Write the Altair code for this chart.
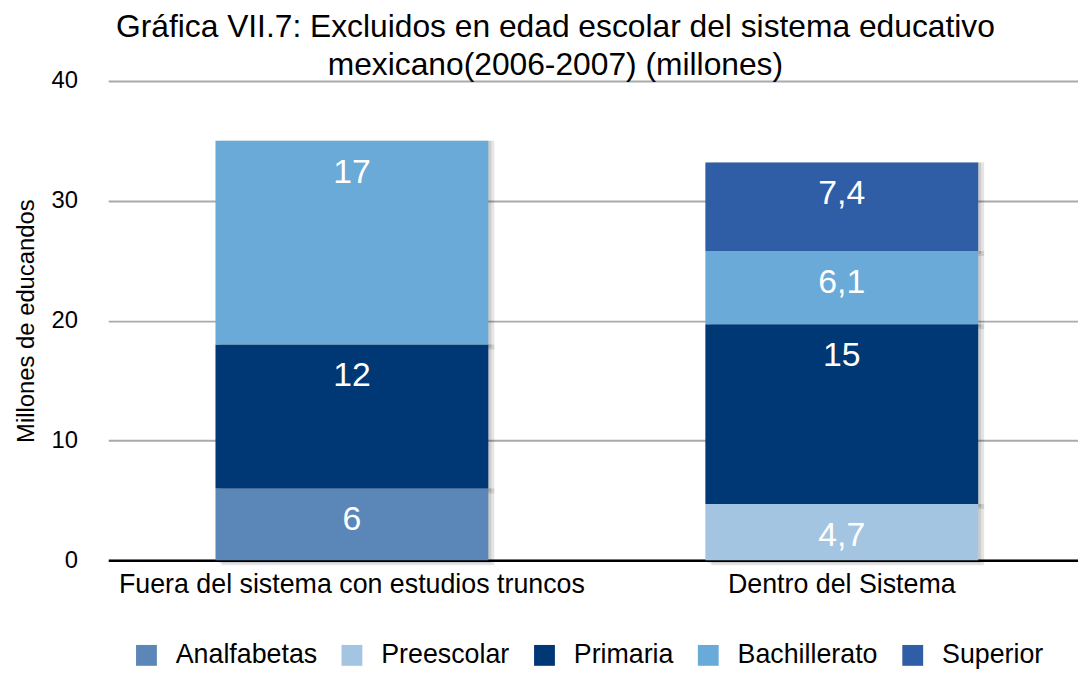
import altair as alt
import pandas as pd

groups = ["Fuera del sistema con estudios truncos"] * 3 + ["Dentro del Sistema"] * 4
series = ["Analfabetas", "Primaria", "Bachillerato",
          "Preescolar", "Primaria", "Bachillerato", "Superior"]
values = [6, 12, 17, 4.7, 15, 6.1, 7.4]
labels = ["6", "12", "17", "4,7", "15", "6,1", "7,4"]

group_order = ["Fuera del sistema con estudios truncos", "Dentro del Sistema"]
legend_order = ["Analfabetas", "Preescolar", "Primaria", "Bachillerato", "Superior"]
colors = ["#5b86b8", "#a4c5e1", "#003875", "#6aaad9", "#2f5ea6"]

df = pd.DataFrame({
    "grupo": groups,
    "serie": series,
    "valor": values,
    "etiqueta": labels,
    "orden": [legend_order.index(s) for s in series],
})

FONT = "Liberation Sans"

base = alt.Chart(df).transform_stack(
    stack="valor", groupby=["grupo"], as_=["y0", "y1"],
    sort=[alt.SortField("orden", order="ascending")],
)

x_scale = alt.Scale(paddingInner=0.443, paddingOuter=0.2113, align=0.518)
y_scale = alt.Scale(domain=[0, 40])

x_axis = alt.Axis(labelAngle=0, labelFontSize=27, labelColor="#000",
                  labelPadding=11, domainColor="#000", domainWidth=2.5,
                  ticks=False, grid=False, labelFont=FONT, labelLimit=0)
y_axis = alt.Axis(values=[0, 10, 20, 30, 40], labelFontSize=24,
                  labelColor="#000", labelPadding=31, domain=False,
                  ticks=False, gridColor="#aaaaaa", gridWidth=2,
                  titleFontSize=24, titleFontWeight="normal",
                  titleColor="#000", titlePadding=13,
                  labelFont=FONT, titleFont=FONT)

x = alt.X("grupo:N", sort=group_order, title=None, scale=x_scale, axis=x_axis)
y = alt.Y("y0:Q", scale=y_scale, title="Millones de educandos", axis=y_axis)

shadow1 = base.mark_bar(color="#000000", opacity=0.10, xOffset=6, yOffset=5).encode(
    x=x, y=y, y2="y1:Q",
)
shadow2 = base.mark_bar(color="#000000", opacity=0.10, xOffset=3, yOffset=3).encode(
    x=x, y=y, y2="y1:Q",
)

bars = base.mark_bar().encode(
    x=x,
    y=y,
    y2="y1:Q",
    color=alt.Color("serie:N", scale=alt.Scale(domain=legend_order, range=colors),
                    legend=alt.Legend(title=None, orient="none", direction="horizontal",
                                      legendX=25, legendY=565, symbolType="square",
                                      symbolSize=441, symbolStrokeWidth=0,
                                      labelFontSize=27, labelColor="#000",
                                      labelFont=FONT, columnPadding=21,
                                      labelOffset=16, columns=5, labelLimit=0)),
)

text = base.mark_text(fontSize=34, color="#ffffff", baseline="middle",
                      dy=32, font=FONT).encode(
    x=x, y=alt.Y("y1:Q", scale=y_scale, title="Millones de educandos", axis=y_axis),
    text="etiqueta:N",
)

chart = alt.layer(shadow1, shadow2, bars, text).properties(
    width=977, height=483,
    autosize=alt.AutoSizeParams(type="none"),
    padding={"left": 101, "top": 71, "right": 0, "bottom": 107},
    title=alt.TitleParams(
        ["Gráfica VII.7: Excluidos en edad escolar del sistema educativo",
         "mexicano(2006-2007) (millones)"],
        fontSize=32, fontWeight="normal", color="#000", font=FONT,
        anchor="middle", dx=-38, offset=-13, lineHeight=38,
    ),
).configure_view(stroke=None)

chart.save("out.html", embed_options={"renderer": "svg", "actions": False})
